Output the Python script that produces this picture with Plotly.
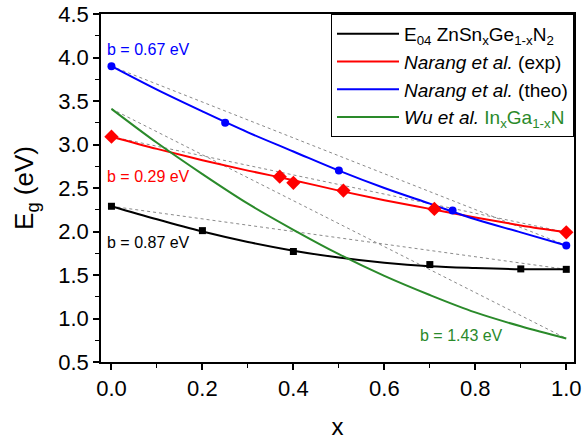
import plotly.graph_objects as go

# ---- data ----
x_fit = [0.0, 0.1, 0.2, 0.3, 0.4, 0.5, 0.6, 0.7, 0.8, 0.9, 1.0]

# E04 ZnSnxGe1-xN2 (black)
x_e04 = [0.0, 0.2, 0.4, 0.7, 0.9, 1.0]
y_e04 = [2.29, 2.01, 1.77, 1.62, 1.57, 1.565]
fit_e04 = [2.29, 2.14, 2.00, 1.88, 1.78, 1.70, 1.64, 1.60, 1.58, 1.567, 1.565]

# Narang et al. (exp) (red)
x_exp = [0.0, 0.37, 0.40, 0.51, 0.71, 1.0]
y_exp = [3.09, 2.63, 2.56, 2.47, 2.26, 1.99]
fit_exp = [3.09, 2.95, 2.82, 2.70, 2.59, 2.47, 2.36, 2.26, 2.16, 2.07, 1.99]

# Narang et al. (theo) (blue)
x_theo = [0.0, 0.25, 0.5, 0.75, 1.0]
y_theo = [3.90, 3.25, 2.70, 2.24, 1.84]
fit_theo = [3.90, 3.63, 3.38, 3.14, 2.92, 2.70, 2.50, 2.32, 2.14, 1.99, 1.84]

# Wu et al. InxGa1-xN (green)
fit_wu = [3.41, 3.02, 2.66, 2.32, 2.02, 1.74, 1.49, 1.27, 1.07, 0.91, 0.77]

# linear (Vegard) reference lines: endpoints
x_lin = [0.0, 1.0]
lin_e04 = [2.29, 1.565]
lin_exp = [3.09, 1.99]
lin_theo = [3.90, 1.84]
lin_wu = [3.41, 0.77]

bow_labels = ["b = 0.67 eV", "b = 0.29 eV", "b = 0.87 eV", "b = 1.43 eV"]
bow_x = [-0.015, -0.015, -0.015, 0.675]
bow_y = [4.09, 2.63, 1.875, 0.81]

legend_names = [
    "E<sub>04</sub> ZnSn<sub>x</sub>Ge<sub>1-x</sub>N<sub>2</sub>",
    "<i>Narang et al.</i> (exp)",
    "<i>Narang et al.</i> (theo)",
    "<i>Wu et al.</i> <span style='color:#2a8a2a'>In<sub>x</sub>Ga<sub>1-x</sub>N</span>",
]

BLACK = "#000000"
RED = "#ff0000"
BLUE = "#0000ff"
GREEN = "#2a8a2a"
GREY = "#8a8a8a"
FONT = "Liberation Sans, Arial, sans-serif"

fig = go.Figure()

# dotted linear references
for ylin in [lin_e04, lin_exp, lin_theo, lin_wu]:
    fig.add_trace(go.Scatter(x=x_lin, y=ylin, mode="lines",
                             line=dict(color=GREY, width=1, dash="dot"),
                             showlegend=False, hoverinfo="skip"))

# fit curves (legend entries)
for yfit, col, name in [(fit_e04, BLACK, legend_names[0]),
                        (fit_exp, RED, legend_names[1]),
                        (fit_theo, BLUE, legend_names[2]),
                        (fit_wu, GREEN, legend_names[3])]:
    fig.add_trace(go.Scatter(x=x_fit, y=yfit, mode="lines", name=name,
                             line=dict(color=col, width=2, shape="spline"),
                             showlegend=True))

# markers
fig.add_trace(go.Scatter(x=x_e04, y=y_e04, mode="markers", showlegend=False,
                         marker=dict(symbol="square", size=7, color=BLACK)))
fig.add_trace(go.Scatter(x=x_exp, y=y_exp, mode="markers", showlegend=False,
                         marker=dict(symbol="diamond", size=11, color=RED)))
fig.add_trace(go.Scatter(x=x_theo, y=y_theo, mode="markers", showlegend=False,
                         marker=dict(symbol="circle", size=8, color=BLUE)))

for txt, bx, by, col in zip(bow_labels, bow_x, bow_y, [BLUE, RED, BLACK, GREEN]):
    fig.add_annotation(x=bx, y=by, text=txt, showarrow=False, xanchor="left",
                       yanchor="middle", font=dict(color=col, size=16, family=FONT))

fig.update_layout(
    width=585, height=441,
    margin=dict(l=101, r=11, t=14, b=79, autoexpand=False),
    paper_bgcolor="white", plot_bgcolor="white",
    font=dict(family=FONT, color="black"),
    legend=dict(x=1, y=1, xanchor="right", yanchor="top",
                bgcolor="white", bordercolor="black", borderwidth=1,
                font=dict(size=19, family=FONT), tracegroupgap=0,
                itemwidth=62),
)
fig.update_xaxes(range=[-0.023, 1.017], tickvals=[0, 0.2, 0.4, 0.6, 0.8, 1.0],
                 ticktext=["0.0", "0.2", "0.4", "0.6", "0.8", "1.0"],
                 ticks="outside", ticklen=6, tickwidth=1.5, tickcolor="black",
                 minor=dict(tickvals=[0.1, 0.3, 0.5, 0.7, 0.9], ticks="outside",
                            ticklen=4, tickwidth=1.2, tickcolor="black"),
                 showline=True, linecolor="black", linewidth=1.5, mirror=True,
                 showgrid=False, zeroline=False, automargin=False,
                 tickfont=dict(size=22, family=FONT),
                 title=dict(text="x", font=dict(size=24, family=FONT), standoff=18))
fig.update_yaxes(range=[0.5, 4.5], tickvals=[0.5, 1.0, 1.5, 2.0, 2.5, 3.0, 3.5, 4.0, 4.5],
                 ticktext=["0.5", "1.0", "1.5", "2.0", "2.5", "3.0", "3.5", "4.0", "4.5"],
                 ticks="outside", ticklen=6, tickwidth=1.5, tickcolor="black",
                 minor=dict(tickvals=[0.75, 1.25, 1.75, 2.25, 2.75, 3.25, 3.75, 4.25],
                            ticks="outside", ticklen=4, tickwidth=1.2, tickcolor="black"),
                 showline=True, linecolor="black", linewidth=1.5, mirror=True,
                 showgrid=False, zeroline=False, automargin=False,
                 tickfont=dict(size=22, family=FONT),
                 title=dict(text="E<sub>g</sub> (eV)", font=dict(size=26, family=FONT), standoff=17))

fig.write_html("out.html", config={"displayModeBar": False},
               post_script="document.body.style.margin='0px';document.body.style.padding='0px';")
